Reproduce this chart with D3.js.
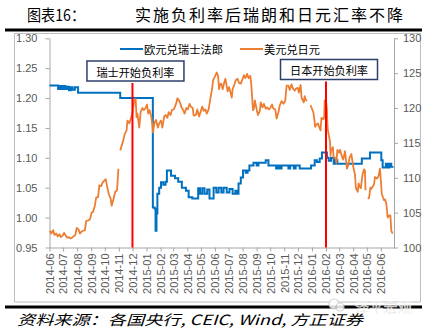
<!DOCTYPE html>
<html><head><meta charset="utf-8">
<script src="https://cdn.jsdelivr.net/npm/d3@7"></script>
<style>body{margin:0;background:#fff}svg{display:block}</style>
</head><body><svg id="c" width="427" height="328"></svg>
<script>
const xTickLabels = ["2014-06","2014-07","2014-08","2014-09","2014-10","2014-11","2014-12","2015-01","2015-02","2015-03","2015-04","2015-05","2015-06","2015-07","2015-08","2015-09","2015-10","2015-11","2015-12","2016-01","2016-02","2016-03","2016-04","2016-05","2016-06"];
const leftTicks = [0.95,1.00,1.05,1.10,1.15,1.20,1.25,1.30];
const rightTicks = [100,105,110,115,120,125,130];
const seriesNames = ["欧元兑瑞士法郎","美元兑日元"];
const eventDates = ["2014-12","2016-02"];
const eventLabels = ["瑞士开始负利率","日本开始负利率"];
const titleLabel = "图表16：";
const titleText = "实施负利率后瑞朗和日元汇率不降";
const sourceText = "资料来源：各国央行, CEIC, Wind, 方正证券";
const watermark = "泽平宏观";

// EUR/CHF (left axis)
const chfData = [
["2014-06-01",1.221],["2014-06-20",1.215],["2014-06-24",1.220],["2014-06-28",1.215],["2014-07-02",1.220],["2014-07-06",1.215],["2014-07-10",1.219],["2014-07-14",1.213],["2014-07-18",1.218],["2014-07-22",1.214],["2014-07-27",1.218],["2014-08-03",1.209],
["2014-11-04",1.200],
["2015-01-15",1.017],["2015-01-19",1.015],["2015-01-21",0.978],["2015-01-23",1.007],["2015-01-25",1.040],["2015-01-29",1.050],["2015-02-02",1.059],["2015-02-07",1.055],["2015-02-12",1.060],["2015-02-15",1.079],["2015-02-24",1.070],["2015-03-05",1.066],["2015-03-12",1.060],["2015-03-20",1.050],["2015-03-29",1.045],["2015-04-04",1.034],["2015-04-12",1.032],["2015-04-25",1.049],["2015-04-29",1.040],["2015-05-04",1.049],["2015-05-09",1.040],["2015-05-15",1.047],["2015-05-20",1.032],["2015-05-29",1.050],["2015-06-04",1.042],["2015-06-09",1.050],["2015-06-15",1.042],["2015-06-20",1.050],["2015-06-27",1.042],["2015-07-03",1.048],["2015-07-10",1.040],["2015-07-16",1.045],["2015-07-20",1.040],["2015-07-23",1.057],["2015-07-28",1.067],["2015-08-02",1.079],["2015-08-08",1.075],["2015-08-12",1.079],["2015-08-16",1.087],["2015-08-25",1.092],["2015-09-01",1.087],["2015-09-05",1.092],["2015-09-15",1.092],["2015-09-21",1.096],["2015-09-27",1.087],["2015-10-14",1.082],["2015-10-18",1.087],["2015-10-22",1.082],["2015-10-26",1.087],["2015-11-10",1.082],["2015-11-14",1.087],["2015-11-22",1.082],["2015-11-26",1.087],["2015-12-05",1.082],["2015-12-30",1.087],["2016-01-07",1.096],["2016-01-12",1.093],["2016-01-18",1.099],["2016-01-23",1.109],["2016-02-03",1.100],["2016-02-07",1.095],["2016-02-12",1.100],["2016-02-18",1.090],["2016-02-22",1.096],["2016-02-26",1.090],["2016-04-20",1.099],["2016-05-08",1.109],["2016-06-02",1.096],["2016-06-05",1.084],["2016-06-12",1.090],["2016-06-16",1.084],["2016-06-20",1.090],["2016-06-24",1.085],["2016-06-27",1.086]
];

// USD/JPY (right axis); null = missing data
const jpyData = [
["2014-06-02",102.4],["2014-06-05",102.0],["2014-06-09",102.5],["2014-06-12",101.8],["2014-06-16",102.0],["2014-06-19",101.6],["2014-06-23",101.9],["2014-06-26",101.5],["2014-06-30",101.7],["2014-07-03",102.1],["2014-07-07",101.7],["2014-07-10",101.4],["2014-07-14",101.5],["2014-07-17",101.3],["2014-07-21",101.4],["2014-07-24",101.6],["2014-07-28",101.8],["2014-07-31",102.8],["2014-08-04",102.6],["2014-08-07",102.0],["2014-08-11",102.3],["2014-08-14",102.4],["2014-08-18",102.5],["2014-08-21",103.8],["2014-08-26",103.9],["2014-08-29",104.0],["2014-09-02",105.0],["2014-09-05",105.1],["2014-09-09",106.0],["2014-09-12",107.2],["2014-09-16",107.2],["2014-09-19",108.9],["2014-09-23",108.8],["2014-09-26",109.3],["2014-09-30",109.6],["2014-10-03",109.8],["2014-10-06",108.8],["2014-10-08",108.2],["2014-10-10",107.6],["2014-10-14",107.0],["2014-10-16",106.0],["2014-10-20",106.9],["2014-10-24",108.0],["2014-10-28",108.2],["2014-10-31",111.3],["2014-11-02",null],
["2014-11-04",113.9],["2014-11-07",114.6],["2014-11-11",115.4],["2014-11-14",116.3],["2014-11-18",116.8],["2014-11-20",118.2],["2014-11-24",117.8],["2014-11-28",118.6],["2014-12-01",119.2],["2014-12-05",121.1],["2014-12-08",121.3],["2014-12-10",118.7],["2014-12-12",119.2],["2014-12-16",117.2],["2014-12-19",119.4],["2014-12-23",120.0],["2014-12-26",119.7],["2014-12-30",120.0],["2015-01-02",120.5],["2015-01-05",119.2],["2015-01-08",119.7],["2015-01-12",118.6],["2015-01-14",117.5],["2015-01-15",116.5],["2015-01-19",117.9],["2015-01-22",118.3],["2015-01-26",117.2],["2015-01-29",117.8],["2015-02-02",118.2],["2015-02-05",117.2],["2015-02-09",118.8],["2015-02-12",119.0],["2015-02-16",118.6],["2015-02-19",119.4],["2015-02-23",119.0],["2015-02-26",119.7],["2015-03-02",119.8],["2015-03-05",120.2],["2015-03-09",121.0],["2015-03-10",121.4],["2015-03-13",121.2],["2015-03-17",120.6],["2015-03-19",120.1],["2015-03-23",119.7],["2015-03-26",119.2],["2015-03-30",120.0],["2015-04-02",119.8],["2015-04-06",120.6],["2015-04-09",120.2],["2015-04-13",120.0],["2015-04-15",118.9],["2015-04-20",119.0],["2015-04-23",119.8],["2015-04-27",118.8],["2015-04-30",119.4],["2015-05-04",120.2],["2015-05-07",119.6],["2015-05-11",119.8],["2015-05-14",119.2],["2015-05-18",119.8],["2015-05-21",121.0],["2015-05-26",122.9],["2015-05-28",124.0],["2015-06-01",124.5],["2015-06-05",125.1],["2015-06-08",124.6],["2015-06-10",122.7],["2015-06-12",123.4],["2015-06-15",123.5],["2015-06-18",122.7],["2015-06-22",123.8],["2015-06-24",124.2],["2015-06-29",122.4],["2015-07-02",123.0],["2015-07-06",122.1],["2015-07-08",121.5],["2015-07-10",122.7],["2015-07-14",123.4],["2015-07-17",124.0],["2015-07-21",124.2],["2015-07-24",123.6],["2015-07-28",123.5],["2015-07-31",124.0],["2015-08-04",124.7],["2015-08-07",124.3],["2015-08-11",124.9],["2015-08-14",124.3],["2015-08-18",124.6],["2015-08-20",123.5],["2015-08-24",119.7],["2015-08-26",120.0],["2015-08-28",121.1],["2015-09-01",119.8],["2015-09-04",119.0],["2015-09-08",119.6],["2015-09-10",120.8],["2015-09-14",120.1],["2015-09-17",120.6],["2015-09-21",119.9],["2015-09-24",120.1],["2015-09-28",119.8],["2015-10-01",120.0],["2015-10-05",120.5],["2015-10-08",119.9],["2015-10-12",119.8],["2015-10-15",118.5],["2015-10-19",119.4],["2015-10-22",120.4],["2015-10-26",121.0],["2015-10-30",120.6],["2015-11-03",121.0],["2015-11-06",123.2],["2015-11-10",123.2],["2015-11-13",122.6],["2015-11-17",123.4],["2015-11-20",122.8],["2015-11-24",122.5],["2015-11-27",122.8],["2015-12-01",122.9],["2015-12-03",122.2],["2015-12-07",123.3],["2015-12-09",121.5],["2015-12-14",120.8],["2015-12-16",121.7],["2015-12-18",121.2],["2015-12-21",121.0],["2015-12-24",null],
["2015-12-29",120.4],["2016-01-04",119.4],["2016-01-06",118.5],["2016-01-08",117.3],["2016-01-12",117.7],["2016-01-14",117.8],["2016-01-18",117.1],["2016-01-20",116.8],["2016-01-22",118.6],["2016-01-26",118.4],["2016-01-28",118.7],["2016-01-29",121.1],["2016-02-01",121.0],["2016-02-03",119.8],["2016-02-04",117.8],["2016-02-05",116.9],["2016-02-08",115.8],["2016-02-10",115.1],["2016-02-11",113.2],["2016-02-12",113.9],["2016-02-16",114.4],["2016-02-18",112.9],["2016-02-22",112.9],["2016-02-24",112.1],["2016-02-26",114.0],["2016-03-01",113.6],["2016-03-03",114.0],["2016-03-07",113.1],["2016-03-10",112.6],["2016-03-14",113.8],["2016-03-16",112.6],["2016-03-18",111.3],["2016-03-21",111.8],["2016-03-24",112.9],["2016-03-28",113.4],["2016-03-30",112.5],["2016-04-01",111.6],["2016-04-05",110.4],["2016-04-07",108.5],["2016-04-11",108.0],["2016-04-13",109.2],["2016-04-15",108.7],["2016-04-18",108.5],["2016-04-20",109.7],["2016-04-22",110.6],["2016-04-25",111.2],["2016-04-27",111.0],["2016-04-28",108.2],["2016-04-30",null],
["2016-05-03",107.0],["2016-05-06",107.1],["2016-05-09",108.6],["2016-05-11",108.4],["2016-05-13",108.6],["2016-05-17",109.1],["2016-05-19",110.1],["2016-05-23",109.9],["2016-05-25",110.0],["2016-05-27",110.3],["2016-05-30",111.3],["2016-06-01",109.6],["2016-06-03",107.7],["2016-06-06",107.1],["2016-06-08",106.8],["2016-06-10",106.9],["2016-06-13",106.3],["2016-06-14",105.7],["2016-06-16",104.3],["2016-06-20",104.6],["2016-06-22",104.6],["2016-06-24",102.4],["2016-06-27",102.0]
];

const parseDay = d3.utcParse("%Y-%m-%d");
const parseMonth = d3.utcParse("%Y-%m");
const chf = chfData.map(d => ({date: parseDay(d[0]), value: d[1]}));
const jpy = jpyData.map(d => ({date: parseDay(d[0]), value: d[1]}));
const monthTicks = xTickLabels.map(parseMonth);

const svg = d3.select("#c");
svg.append("rect").attr("width",427).attr("height",328).attr("fill","#fff");

const CJK = "'Noto Sans CJK SC','Noto Sans',sans-serif";
const LAT = "'Liberation Sans',Arial,sans-serif";

// Title
svg.append("text").attr("x",27).attr("y",21).attr("font-family",CJK).attr("font-size",16)
  .attr("textLength",58).attr("lengthAdjust","spacingAndGlyphs").attr("fill","#000").text(titleLabel);
svg.append("text").attr("x",135).attr("y",21).attr("font-family",CJK).attr("font-size",16)
  .attr("textLength",268).attr("lengthAdjust","spacing").attr("fill","#000").text(titleText);
svg.append("line").attr("x1",5).attr("x2",422).attr("y1",30).attr("y2",30).attr("stroke","#000").attr("stroke-width",3);

// Frame
svg.append("rect").attr("x",14.5).attr("y",33.5).attr("width",406).attr("height",268.5)
  .attr("fill","none").attr("stroke","#bfbfbf").attr("stroke-width",1);

// Scales
const x = d3.scaleUtc().domain([parseDay("2014-06-01"), parseDay("2016-06-30")]).range([49.5, 394]);
const yL = d3.scaleLinear().domain([0.95, 1.30]).range([247.5, 38.3]);
const yR = d3.scaleLinear().domain([100, 130]).range([247.5, 38.3]);

// Axes
const axisColor = "#a6a6a6", textColor = "#595959";
const gL = svg.append("g").attr("transform","translate(49.5,0)")
  .call(d3.axisLeft(yL).tickValues(leftTicks).tickFormat(d3.format(".2f")).tickSize(4).tickPadding(8).tickSizeOuter(0));
const gR = svg.append("g").attr("transform","translate(394,0)")
  .call(d3.axisRight(yR).tickValues(rightTicks).tickFormat(d3.format("d")).tickSize(4).tickPadding(5).tickSizeOuter(0));
const gB = svg.append("g").attr("transform","translate(0,247.5)")
  .call(d3.axisBottom(x).tickValues(monthTicks).tickFormat("").tickSize(4).tickSizeOuter(0));
[gL,gR,gB].forEach(g => {
  g.selectAll("path.domain").attr("stroke",axisColor);
  g.selectAll(".tick line").attr("stroke",axisColor);
  g.selectAll("text").attr("fill",textColor).attr("font-family",LAT).attr("font-size",11);
});
gB.selectAll(".tick").append("text")
  .attr("transform","translate(0,253) rotate(-90)".replace("translate(0,253)","translate(0,6)"))
  .attr("text-anchor","end").attr("dy","0.35em")
  .attr("fill",textColor).attr("font-family",LAT).attr("font-size",11)
  .text((d,i) => xTickLabels[i]);

// Lines
const lineChf = d3.line().x(d => x(d.date)).y(d => yL(d.value)).curve(d3.curveStepAfter);
const lineJpy = d3.line().defined(d => d.value !== null).x(d => x(d.date)).y(d => yR(d.value));
svg.append("path").datum(chf).attr("d",lineChf).attr("fill","none").attr("stroke","#0070c0").attr("stroke-width",2);
svg.append("path").datum(jpy).attr("d",lineJpy).attr("fill","none").attr("stroke","#ed7d31").attr("stroke-width",1.8).attr("stroke-linejoin","round");

// Event lines and boxes
const boxTops = [61, 59.5];
eventDates.forEach((ev,i) => {
  const ex = x(parseMonth(ev));
  svg.append("line").attr("x1",ex).attr("x2",ex).attr("y1",boxTops[i]+22).attr("y2",247.5)
    .attr("stroke","#ff0000").attr("stroke-width",2);
  const bx = ex + 3 - 48.5;
  svg.append("rect").attr("x",bx).attr("y",boxTops[i]).attr("width",97).attr("height",20)
    .attr("fill","#fff").attr("stroke","#2f3f6b").attr("stroke-width",1.5);
  svg.append("text").attr("x",bx+48.5).attr("y",boxTops[i]+10.5).attr("text-anchor","middle")
    .attr("dominant-baseline","central").attr("font-family",CJK).attr("font-size",11.5)
    .attr("textLength",78).attr("lengthAdjust","spacingAndGlyphs").attr("fill","#000").text(eventLabels[i]);
});

// Legend
const legend = [{x:120, color:"#0070c0", w:79}, {x:240, color:"#ed7d31", w:56}];
legend.forEach((l,i) => {
  svg.append("line").attr("x1",l.x).attr("x2",l.x+23).attr("y1",49).attr("y2",49).attr("stroke",l.color).attr("stroke-width",2);
  svg.append("text").attr("x",l.x+24).attr("y",49).attr("dominant-baseline","central")
    .attr("font-family",CJK).attr("font-size",11.5).attr("textLength",l.w).attr("lengthAdjust","spacingAndGlyphs")
    .attr("fill","#000").text(seriesNames[i]);
});

// Bottom rule, watermark, source
svg.append("line").attr("x1",5).attr("x2",422).attr("y1",307).attr("y2",307).attr("stroke","#000").attr("stroke-width",3);
const wm = svg.append("g").attr("opacity",0.85);
wm.append("circle").attr("cx",334).attr("cy",304).attr("r",5).attr("fill","#fff").attr("stroke","#cfcfcf").attr("stroke-width",1.2);
wm.append("circle").attr("cx",340).attr("cy",307).attr("r",4).attr("fill","#fff").attr("stroke","#cfcfcf").attr("stroke-width",1.2);
wm.append("text").attr("x",355).attr("y",312).attr("font-family",CJK).attr("font-size",13)
  .attr("textLength",57).attr("lengthAdjust","spacingAndGlyphs").attr("fill","#d0d0d0")
  .attr("stroke","#fff").attr("stroke-width",0.5).text(watermark);
svg.append("text").attr("x",17).attr("y",325).attr("font-family",CJK).attr("font-size",14).attr("font-style","italic")
  .attr("textLength",346).attr("lengthAdjust","spacingAndGlyphs").attr("fill","#000").text(sourceText);
</script>
</body></html>
